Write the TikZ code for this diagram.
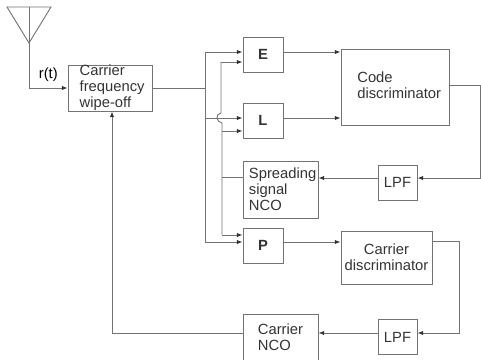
\documentclass[tikz,border=0pt]{standalone}
\usepackage{fontspec}
\setmainfont{Liberation Sans}
\usetikzlibrary{arrows.meta}
\definecolor{wirecol}{gray}{0.45}
\newcommand{\nudge}[1]{\hspace*{6pt}\raisebox{2pt}{#1}}
\begin{document}
\begin{tikzpicture}[x=0.025cm, y=-0.025cm, font=\fontsize{10.5}{11.4}\selectfont,
  box/.style={draw=wirecol, line width=0.65pt, inner sep=0pt, align=left, text=black!80},
  wire/.style={draw=wirecol, line width=0.65pt},
  feed/.style={wire, -{Latex[length=4pt, width=3pt, black!80]}}]
  \useasboundingbox (0,0) rectangle (481,360);
  % antenna
  \coordinate (tipl) at (7,7);
  \coordinate (tipr) at (51,7);
  \coordinate (tipm) at (29,7);
  \coordinate (foot) at (29,43);
  \draw[wire] (tipl) -- (tipr) -- (foot) -- cycle;
  \draw[wire] (tipm) -- (foot);
  % boxes
  \node[box, minimum width=2.1cm, minimum height=1.15cm] (wipe) at (110,88) {\hspace*{3pt}Carrier\\\hspace*{3pt}frequency\\\hspace*{3pt}wipe-off};
  \node[box, minimum width=1cm, minimum height=0.875cm, font=\fontsize{10.5}{11.4}\selectfont\bfseries] (early) at (263,54.5) {E};
  \node[box, minimum width=1cm, minimum height=0.875cm, font=\fontsize{10.5}{11.4}\selectfont\bfseries] (late) at (263,120.5) {L};
  \node[box, minimum width=1cm, minimum height=0.875cm, font=\fontsize{10.5}{11.4}\selectfont\bfseries] (prompt) at (263,245.5) {P};
  \node[box, minimum width=2.7cm, minimum height=1.9cm] (code) at (395,87) {\nudge{Code}\\\nudge{discriminator}};
  \node[box, minimum width=1.875cm, minimum height=1.425cm] (spread) at (280.5,189.5) {\hspace*{3pt}Spreading\\\hspace*{3pt}signal\\\hspace*{3pt}NCO};
  \node[box, minimum width=0.975cm, minimum height=0.875cm] (lpfa) at (397.5,182.5) {LPF};
  \node[box, minimum width=2.275cm, minimum height=1.325cm, align=center] (cdisc) at (386.5,257.5) {Carrier\\discriminator};
  \node[box, minimum width=0.975cm, minimum height=0.875cm] (lpfb) at (397.5,337) {LPF};
  \node[box, minimum width=1.875cm, minimum height=1.15cm] (cnco) at (280.5,337) {Carrier\\NCO};
  % helper points
  \coordinate (bend) at (29,88);
  \coordinate (busa) at (205,88);
  \coordinate (busatop) at (205,52);
  \coordinate (busalow) at (205,242);
  \coordinate (busamid) at (205,118);
  \coordinate (busbtop) at (221,62);
  \coordinate (jumpa) at (221,113);
  \coordinate (jumpb) at (222,123);
  \coordinate (busbl) at (222,131);
  \coordinate (busbs) at (222,177);
  \coordinate (busblow) at (222,235);
  \coordinate (coda) at (480,85);
  \coordinate (codb) at (480,178);
  \coordinate (cara) at (459,241);
  \coordinate (carb) at (459,333);
  \coordinate (ret) at (112,333);
  % connectors
  \draw[feed] (foot) -- (bend) -- node[above, pos=0.5, yshift=1pt] (rt) {r(t)} (bend -| wipe.west);
  \draw[wire] (wipe.east |- busa) -- (busa);
  \draw[wire] (busatop) -- (busalow);
  \draw[feed] (busatop) -- (busatop -| early.west);
  \draw[feed] (busamid) -- (busamid -| late.west);
  \draw[feed] (busalow) -- (busalow -| prompt.west);
  \draw[wire] (busblow) -- (jumpb) .. controls (216,122) and (215,114) .. (jumpa) -- (busbtop);
  \draw[feed] (busbtop) -- (busbtop -| early.west);
  \draw[feed] (busbl) -- (busbl -| late.west);
  \draw[feed] (busblow) -- (busblow -| prompt.west);
  \draw[wire] (busbs) -- (busbs -| spread.west);
  \draw[feed] (busatop -| early.east) -- (busatop -| code.west);
  \draw[feed] (busamid -| late.east) -- (busamid -| code.west);
  \draw[feed] (code.east |- coda) -- (coda) -- (codb) -- (codb -| lpfa.east);
  \draw[feed] (codb -| lpfa.west) -- (codb -| spread.east);
  \draw[feed] (busalow -| prompt.east) -- (busalow -| cdisc.west);
  \draw[feed] (cdisc.east |- cara) -- (cara) -- (carb) -- (carb -| lpfb.east);
  \draw[feed] (carb -| lpfb.west) -- (carb -| cnco.east);
  \draw[feed] (carb -| cnco.west) -- (ret) -- (ret |- wipe.south);
\end{tikzpicture}
\end{document}
